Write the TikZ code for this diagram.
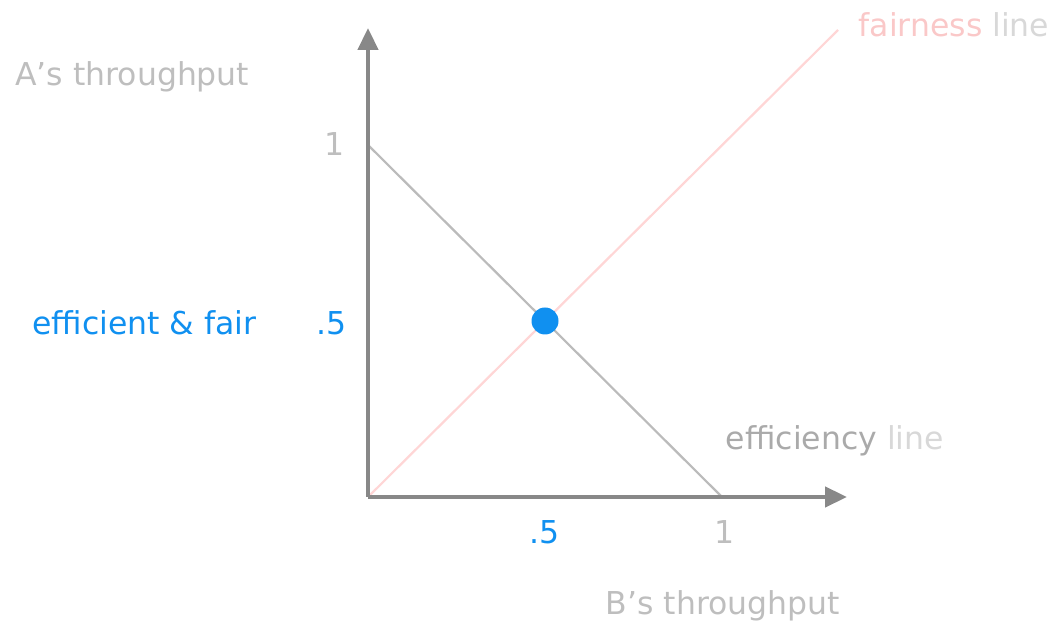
\documentclass[tikz,border=0pt]{standalone}
\usepackage{fontspec}
\setmainfont{DejaVu Sans}
\usepackage{tikz}
\usetikzlibrary{arrows.meta,positioning,calc}
\usepackage{xcolor}
\definecolor{axiscol}{RGB}{136,136,136}
\definecolor{labelcol}{RGB}{190,190,190}
\definecolor{effcol}{RGB}{170,170,170}
\definecolor{linecol}{RGB}{216,216,216}
\definecolor{faircol}{RGB}{250,200,200}
\definecolor{fairlinecol}{RGB}{255,214,214}
\definecolor{bluecol}{RGB}{16,144,240}
\tikzset{
  % axis with filled arrow tip
  axis/.style={-{Triangle[length=22pt,width=20pt]}, line width=4.5pt, draw=axiscol},
  % efficiency line
  effline/.style={line width=2.2pt, draw=effcol!80},
  % fairness line
  fairline/.style={line width=2.2pt, draw=fairlinecol},
  % text labels
  txt/.style={font=\fontsize{31.5}{36}\selectfont, inner sep=0pt, text=#1},
  txt/.default={labelcol},
  % operating point
  opoint/.style={circle, fill=bluecol, minimum size=27pt, inner sep=0pt},
}
\begin{document}
\begin{tikzpicture}[x=1pt,y=1pt]
  \useasboundingbox (0,0) rectangle (1057,628);
  \coordinate (O) at (368,131);
  \coordinate (ytip) at (368,600);
  \coordinate (xtip) at (847,131);
  \coordinate (a1) at (368,483);
  \coordinate (b1) at (722,131);
  \coordinate (fend) at (838,598);
  % lines
  \draw[fairline] (O) -- (fend);
  \draw[effline] (a1) -- (b1);
  \draw[axis] (O) -- (ytip);
  \draw[axis] (O) -- (xtip);
  \node[opoint] (pt) at (545,307) {};
  % tick labels
  \node[txt] (ya1) at (335,484) {1};
  \node[txt=bluecol] (yhalf) at (332,305) {.5};
  \node[txt=bluecol] (xhalf) at (545,96) {.5};
  \node[txt] (xb1) at (725,96) {1};
  % axis titles
  \node[txt, anchor=west] (ytitle) at (15,551) {A’s throughput};
  \node[txt] (xtitle) at (723,22) {B’s throughput};
  % line and point labels
  \node[txt=bluecol, anchor=west] (eflabel) at (32,305) {efficient \& fair};
  \node[txt=effcol] (efflabel) at (835,187) {efficiency \textcolor{linecol}{line}};
  \node[txt=faircol] (fairlabel) at (954,603) {fairness \textcolor{linecol}{line}};
\end{tikzpicture}
\end{document}
